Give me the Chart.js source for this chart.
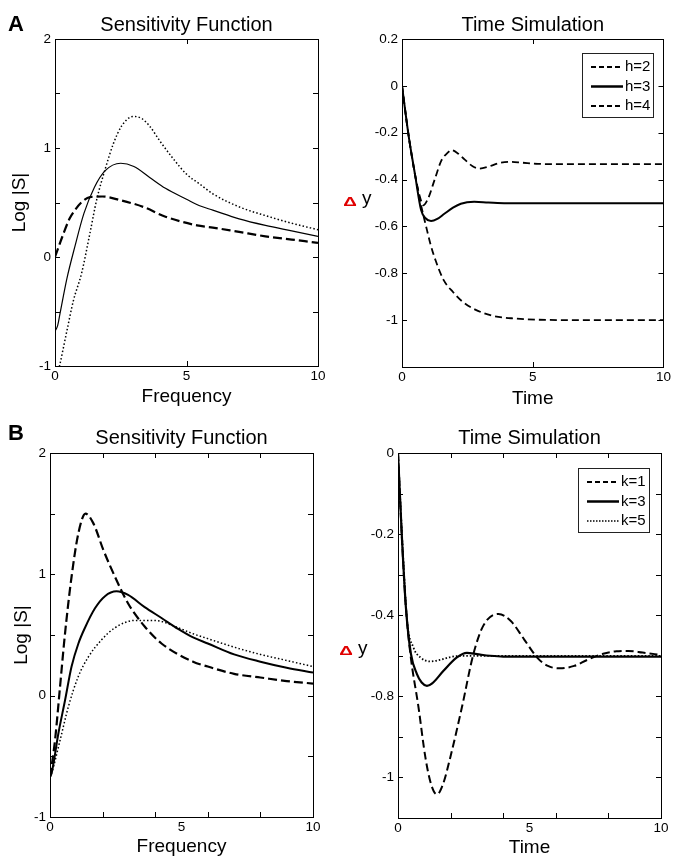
<!DOCTYPE html>
<html>
<head>
<meta charset="utf-8">
<script src="https://cdn.jsdelivr.net/npm/chart.js@4.4.1/dist/chart.umd.min.js"></script>
<style>
  html, body { margin: 0; padding: 0; background: #fff; }
  body { width: 673px; height: 857px; position: relative; overflow: hidden; }
  .panel { position: absolute; }
  .panel canvas { display: block; }
</style>
</head>
<body>
<div class="panel" style="left:0px;top:0px;"><canvas id="aSens" width="336" height="420"></canvas></div>
<div class="panel" style="left:336px;top:0px;"><canvas id="aTime" width="337" height="420"></canvas></div>
<div class="panel" style="left:0px;top:420px;"><canvas id="bSens" width="336" height="437"></canvas></div>
<div class="panel" style="left:336px;top:420px;"><canvas id="bTime" width="337" height="437"></canvas></div>
<script>
Chart.defaults.color = '#000';
Chart.defaults.font.family = "'Liberation Sans', Arial, Helvetica, sans-serif";
Chart.defaults.font.size = 13;

// ---- Panel A, left: sensitivity function, h = 2, 3, 4 ----
const aSensFreqH2 = [0, 0.3, 0.55, 0.76, 1, 1.33, 1.8, 2.5, 3.35, 4.2, 5.4, 6, 7, 8, 9, 10];
const aSensLogH2  = [0, 0.2, 0.35, 0.43, 0.5, 0.55, 0.555, 0.52, 0.46, 0.37, 0.29, 0.27, 0.23, 0.19, 0.16, 0.13];
const aSensFreqH3 = [0, 0.1, 0.19, 0.45, 0.76, 1.1, 1.5, 1.9, 2.5, 3, 3.6, 4.2, 5, 5.5, 6, 7, 8, 9, 10];
const aSensLogH3  = [-0.68, -0.63, -0.52, -0.2, 0.1, 0.4, 0.64, 0.79, 0.86, 0.83, 0.73, 0.63, 0.53, 0.47, 0.43, 0.35, 0.29, 0.24, 0.19];
const aSensFreqH4 = [0, 0.19, 0.45, 0.7, 1.01, 1.33, 1.58, 1.9, 2.22, 2.53, 2.97, 3.3, 3.6, 4, 4.5, 5, 5.5, 6, 7, 8, 9, 10];
const aSensLogH4  = [-1.17, -0.98, -0.68, -0.4, -0.15, 0.22, 0.52, 0.8, 1.04, 1.2, 1.29, 1.27, 1.2, 1.06, 0.9, 0.76, 0.67, 0.58, 0.46, 0.38, 0.31, 0.25];

// ---- Panel A, right: time simulation, h = 2, 3, 4 ----
const aTimeTH2 = [0, 0.25, 0.5, 0.7, 0.82, 1, 1.25, 1.5, 1.75, 1.88, 2.1, 2.4, 2.7, 2.95, 3.3, 3.7, 4.15, 4.6, 5.2, 6, 10];
const aTimeYH2 = [0, -0.21, -0.38, -0.48, -0.51, -0.48, -0.4, -0.32, -0.285, -0.274, -0.285, -0.315, -0.343, -0.353, -0.345, -0.33, -0.324, -0.328, -0.333, -0.334, -0.334];
const aTimeTH3 = [0, 0.25, 0.5, 0.73, 0.9, 1.11, 1.35, 1.62, 1.95, 2.25, 2.76, 3.3, 4, 10];
const aTimeYH3 = [0, -0.21, -0.38, -0.53, -0.565, -0.577, -0.568, -0.546, -0.52, -0.503, -0.495, -0.498, -0.501, -0.501];
const aTimeTH4 = [0, 0.25, 0.5, 0.75, 0.9, 1.1, 1.3, 1.6, 1.95, 2.3, 2.8, 3.5, 4.3, 5.5, 7, 10];
const aTimeYH4 = [0, -0.21, -0.38, -0.52, -0.59, -0.68, -0.75, -0.83, -0.88, -0.92, -0.955, -0.982, -0.993, -0.999, -1, -1];

// ---- Panel B, left: sensitivity function, k = 1, 3, 5 ----
const bSensFreqK1 = [0, 0.19, 0.38, 0.57, 0.82, 1.08, 1.35, 1.65, 2.03, 2.47, 2.97, 3.6, 4.24, 5.44, 6, 7, 8, 9, 10];
const bSensLogK1  = [-0.67, -0.37, 0.07, 0.51, 0.98, 1.34, 1.5, 1.42, 1.2, 0.98, 0.76, 0.57, 0.43, 0.28, 0.24, 0.18, 0.15, 0.12, 0.1];
const bSensFreqK3 = [0, 0.06, 0.32, 0.57, 0.82, 1.08, 1.33, 1.71, 2.09, 2.53, 2.97, 3.6, 4.24, 4.87, 5.44, 6, 7, 8, 9, 10];
const bSensLogK3  = [-0.67, -0.64, -0.31, -0.04, 0.24, 0.43, 0.56, 0.72, 0.82, 0.86, 0.83, 0.73, 0.64, 0.55, 0.48, 0.43, 0.34, 0.28, 0.23, 0.19];
const bSensFreqK5 = [0, 0.06, 0.38, 0.7, 1.08, 1.46, 1.96, 2.47, 3.23, 3.99, 4.87, 5.44, 6, 7, 8, 9, 10];
const bSensLogK5  = [-0.67, -0.64, -0.37, -0.09, 0.16, 0.32, 0.46, 0.56, 0.62, 0.62, 0.56, 0.51, 0.47, 0.4, 0.34, 0.29, 0.24];

// ---- Panel B, right: time simulation, k = 1, 3, 5 ----
const bTimeTK1 = [0, 0.15, 0.3, 0.47, 0.78, 1.04, 1.25, 1.48, 1.72, 1.99, 2.43, 2.87, 3.25, 3.82, 4.3, 4.8, 5.3, 5.7, 6.16, 6.7, 7.2, 7.8, 8.3, 8.76, 9.3, 10];
const bTimeYK1 = [0, -0.21, -0.38, -0.495, -0.627, -0.75, -0.815, -0.842, -0.815, -0.75, -0.627, -0.495, -0.425, -0.397, -0.415, -0.46, -0.505, -0.525, -0.531, -0.525, -0.51, -0.495, -0.489, -0.488, -0.492, -0.498];
const bTimeTK3 = [0, 0.15, 0.3, 0.49, 0.72, 0.9, 1.1, 1.3, 1.73, 2.24, 2.62, 3, 3.5, 4, 10];
const bTimeYK3 = [0, -0.21, -0.38, -0.495, -0.545, -0.566, -0.574, -0.568, -0.537, -0.504, -0.493, -0.496, -0.5, -0.502, -0.502];
const bTimeTK5 = [0, 0.15, 0.34, 0.59, 0.85, 1.23, 1.6, 2, 2.5, 3, 10];
const bTimeYK5 = [0, -0.2, -0.41, -0.48, -0.504, -0.514, -0.51, -0.503, -0.5, -0.5, -0.5];

// axis ticks (labels) and extra inner tick marks
const freqTicks = [0, 5, 10];
const freqTickText = ['0', '5', '10'];
const logTicks = [-1, 0, 1, 2];
const logTickText = ['-1', '0', '1', '2'];
const logMarks = [-0.5, 0, 0.5, 1, 1.5];
const aTimeYTicks = [0.2, 0, -0.2, -0.4, -0.6, -0.8, -1];
const aTimeYTickText = ['0.2', '0', '-0.2', '-0.4', '-0.6', '-0.8', '-1'];
const aTimeYMarks = [0, -0.2, -0.4, -0.6, -0.8, -1];
const bTimeYTicks = [0, -0.2, -0.4, -0.6, -0.8];
const bTimeYTickText = ['0', '-0.2', '-0.4', '-0.8', '-1'];   // as printed on the original axis
const bTimeYMarks = [-0.1, -0.2, -0.3, -0.4, -0.5, -0.6, -0.7, -0.8];
const aXMarks = [5];
const bXMarks = [2, 4, 6, 8];

const FONT = "'Liberation Sans', Arial, Helvetica, sans-serif";

function pts(xs, ys) {
  return xs.map((x, i) => ({ x: x, y: ys[i] }));
}

function series(label, xs, ys, style) {
  return Object.assign({
    label: label,
    data: pts(xs, ys),
    borderColor: '#000',
    backgroundColor: '#000',
    fill: false,
    pointRadius: 0,
    cubicInterpolationMode: 'monotone'
  }, style);
}

// MATLAB-like box with inward ticks on all four sides
const matlabFrame = {
  id: 'matlabFrame',
  afterDatasetsDraw(chart, args, opts) {
    const { ctx, chartArea: a, scales: { x, y } } = chart;
    const len = opts.len || 5;
    ctx.save();
    ctx.strokeStyle = '#000';
    ctx.lineWidth = 1;
    ctx.setLineDash([]);
    ctx.beginPath();
    (opts.xMarks || []).forEach(v => {
      const px = Math.round(x.getPixelForValue(v)) + 0.5;
      ctx.moveTo(px, a.bottom); ctx.lineTo(px, a.bottom - len);
      ctx.moveTo(px, a.top); ctx.lineTo(px, a.top + len);
    });
    (opts.yMarks || []).forEach(v => {
      const py = Math.round(y.getPixelForValue(v)) + 0.5;
      ctx.moveTo(a.left, py); ctx.lineTo(a.left + len, py);
      ctx.moveTo(a.right, py); ctx.lineTo(a.right - len, py);
    });
    ctx.stroke();
    ctx.strokeRect(Math.round(a.left) + 0.5, Math.round(a.top) + 0.5,
      Math.round(a.right - a.left), Math.round(a.bottom - a.top));
    ctx.restore();
  }
};

// legend box drawn inside the plot, top right
const boxLegend = {
  id: 'boxLegend',
  afterDraw(chart, args, opts) {
    if (!opts.show) return;
    const { ctx, chartArea: a } = chart;
    const w = 71, h = 64;
    const left = Math.round(a.right - opts.inset[0] - w);
    const top = Math.round(a.top + opts.inset[1]);
    ctx.save();
    ctx.fillStyle = '#fff';
    ctx.fillRect(left, top, w, h);
    ctx.strokeStyle = '#222';
    ctx.lineWidth = 1;
    ctx.strokeRect(left + 0.5, top + 0.5, w, h);
    ctx.font = '15px ' + FONT;
    ctx.textBaseline = 'middle';
    ctx.textAlign = 'left';
    chart.data.datasets.forEach((ds, i) => {
      const cy = top + 14 + i * 19.5;
      ctx.strokeStyle = '#000';
      ctx.lineWidth = ds.legendWidth || ds.borderWidth;
      ctx.setLineDash(ds.legendDash || ds.borderDash || []);
      ctx.beginPath();
      ctx.moveTo(left + 9, cy);
      ctx.lineTo(left + 41, cy);
      ctx.stroke();
      ctx.setLineDash([]);
      ctx.fillStyle = '#000';
      ctx.fillText(ds.label, left + 43, cy);
    });
    ctx.restore();
  }
};

// red delta + black y as the y axis label
const deltaLabel = {
  id: 'deltaLabel',
  afterDraw(chart, args, opts) {
    if (!opts.show) return;
    const { ctx, chartArea: a, scales: { y } } = chart;
    const cy = y.getPixelForValue(opts.atValue) + opts.dy;
    ctx.save();
    ctx.textBaseline = 'middle';
    ctx.textAlign = 'center';
    ctx.fillStyle = '#e00000';
    ctx.font = 'bold 18px ' + FONT;
    ctx.save();
    ctx.translate(a.left - 52, cy + 1);
    ctx.scale(1.05, 0.72);
    ctx.fillText('\u0394', 0, 0);
    ctx.restore();
    ctx.textAlign = 'left';
    ctx.fillStyle = '#000';
    ctx.font = '19px ' + FONT;
    ctx.fillText('y', a.left - 40, cy - 2);
    ctx.restore();
  }
};

// bold panel letter in the top left corner
const panelLetter = {
  id: 'panelLetter',
  afterDraw(chart, args, opts) {
    if (!opts.text) return;
    const ctx = chart.ctx;
    ctx.save();
    ctx.font = 'bold 22px ' + FONT;
    ctx.fillStyle = '#000';
    ctx.textBaseline = 'middle';
    ctx.textAlign = 'left';
    ctx.fillText(opts.text, opts.x, opts.y);
    ctx.restore();
  }
};

function makePanel(canvasId, o) {
  const canvas = document.getElementById(canvasId);
  return new Chart(canvas, {
    type: 'line',
    data: { datasets: o.datasets },
    options: {
      responsive: false,
      animation: false,
      events: [],
      layout: { padding: { left: 0, right: o.padRight, top: 0, bottom: 0 } },
      plugins: {
        legend: { display: false },
        tooltip: { enabled: false },
        title: {
          display: true,
          text: o.title,
          fullSize: false,
          color: '#000',
          font: { size: 20, weight: 'normal', lineHeight: 1.2 },
          padding: o.titlePad
        },
        matlabFrame: { xMarks: o.xMarks, yMarks: o.yMarks, len: 5 },
        boxLegend: o.legend || { show: false },
        deltaLabel: o.delta || { show: false },
        panelLetter: o.letter || {}
      },
      scales: {
        x: {
          type: 'linear',
          min: 0,
          max: 10,
          grid: { display: false, drawTicks: false },
          border: { display: false },
          ticks: {
            padding: 2,
            maxRotation: 0,
            autoSkip: false,
            font: { size: 13.5 },
            callback: v => o.xTickText[o.xTicks.indexOf(v)]
          },
          afterBuildTicks: s => { s.ticks = o.xTicks.map(v => ({ value: v })); },
          afterFit: s => { s.height = o.xAxisHeight; },
          title: {
            display: true,
            text: o.xTitle,
            font: { size: 19, lineHeight: 1 },
            padding: { top: 0, bottom: o.xTitlePad }
          }
        },
        y: {
          type: 'linear',
          min: o.yMin,
          max: o.yMax,
          grid: { display: false, drawTicks: false },
          border: { display: false },
          ticks: {
            padding: 4,
            autoSkip: false,
            font: { size: 13.5 },
            callback: v => o.yTickText[o.yTicks.indexOf(v)]
          },
          afterBuildTicks: s => { s.ticks = o.yTicks.map(v => ({ value: v })); },
          afterFit: s => { s.width = o.yAxisWidth; },
          title: {
            display: !!o.yTitle,
            text: o.yTitle || '',
            font: { size: 19, lineHeight: 1 },
            padding: { top: o.yTitlePad || 0, bottom: 0 }
          }
        }
      }
    },
    plugins: [matlabFrame, boxLegend, deltaLabel, panelLetter]
  });
}

const dashedBold = { borderWidth: 2.2, borderDash: [9, 4] };
const dotted = { borderWidth: 1.5, borderDash: [1.5, 2.2] };

makePanel('aSens', {
  title: 'Sensitivity Function',
  titlePad: { top: 13, bottom: 2 },
  padRight: 18,
  yAxisWidth: 55,
  xAxisHeight: 54,
  xTitle: 'Frequency',
  xTitlePad: 14,
  yTitle: 'Log |S|',
  yTitlePad: 10.5,
  yMin: -1, yMax: 2,
  xTicks: freqTicks, xTickText: freqTickText,
  yTicks: logTicks, yTickText: logTickText,
  xMarks: aXMarks, yMarks: logMarks,
  letter: { text: 'A', x: 8, y: 25 },
  datasets: [
    series('h=2', aSensFreqH2, aSensLogH2, dashedBold),
    series('h=3', aSensFreqH3, aSensLogH3, { borderWidth: 1.2 }),
    series('h=4', aSensFreqH4, aSensLogH4, dotted)
  ]
});

makePanel('aTime', {
  title: 'Time Simulation',
  titlePad: { top: 13, bottom: 2 },
  padRight: 7,
  yAxisWidth: 66,
  xAxisHeight: 53,
  xTitle: 'Time',
  xTitlePad: 12,
  yMin: -1.2, yMax: 0.2,
  xTicks: freqTicks, xTickText: freqTickText,
  yTicks: aTimeYTicks, yTickText: aTimeYTickText,
  xMarks: aXMarks, yMarks: aTimeYMarks,
  legend: { show: true, inset: [10, 14] },
  delta: { show: true, atValue: -0.5, dy: -2 },
  datasets: [
    series('h=2', aTimeTH2, aTimeYH2, { borderWidth: 1.8, borderDash: [7, 4], legendDash: [5, 3], legendWidth: 2 }),
    series('h=3', aTimeTH3, aTimeYH3, { borderWidth: 2, legendWidth: 2.5 }),
    series('h=4', aTimeTH4, aTimeYH4, { borderWidth: 1.8, borderDash: [7, 4], legendDash: [5, 3], legendWidth: 2 })
  ]
});

makePanel('bSens', {
  title: 'Sensitivity Function',
  titlePad: { top: 6, bottom: 3 },
  padRight: 23,
  yAxisWidth: 50,
  xAxisHeight: 40,
  xTitle: 'Frequency',
  xTitlePad: 1,
  yTitle: 'Log |S|',
  yTitlePad: 12.5,
  yMin: -1, yMax: 2,
  xTicks: freqTicks, xTickText: freqTickText,
  yTicks: logTicks, yTickText: logTickText,
  xMarks: bXMarks, yMarks: logMarks,
  letter: { text: 'B', x: 8, y: 14 },
  datasets: [
    series('k=1', bSensFreqK1, bSensLogK1, dashedBold),
    series('k=3', bSensFreqK3, bSensLogK3, { borderWidth: 2 }),
    series('k=5', bSensFreqK5, bSensLogK5, dotted)
  ]
});

makePanel('bTime', {
  title: 'Time Simulation',
  titlePad: { top: 6, bottom: 3 },
  padRight: 12,
  yAxisWidth: 62,
  xAxisHeight: 39,
  xTitle: 'Time',
  xTitlePad: 0,
  yMin: -0.9, yMax: 0,
  xTicks: freqTicks, xTickText: freqTickText,
  yTicks: bTimeYTicks, yTickText: bTimeYTickText,
  xMarks: bXMarks, yMarks: bTimeYMarks,
  legend: { show: true, inset: [12, 15] },
  delta: { show: true, atValue: -0.5, dy: -5 },
  datasets: [
    series('k=1', bTimeTK1, bTimeYK1, { borderWidth: 2, borderDash: [8, 4], legendDash: [5, 3], legendWidth: 2 }),
    series('k=3', bTimeTK3, bTimeYK3, { borderWidth: 2.2, legendWidth: 2.5 }),
    series('k=5', bTimeTK5, bTimeYK5, { borderWidth: 1.8, borderDash: [1.5, 2], legendDash: [1.5, 1.5], legendWidth: 1.5 })
  ]
});
</script>
</body>
</html>
